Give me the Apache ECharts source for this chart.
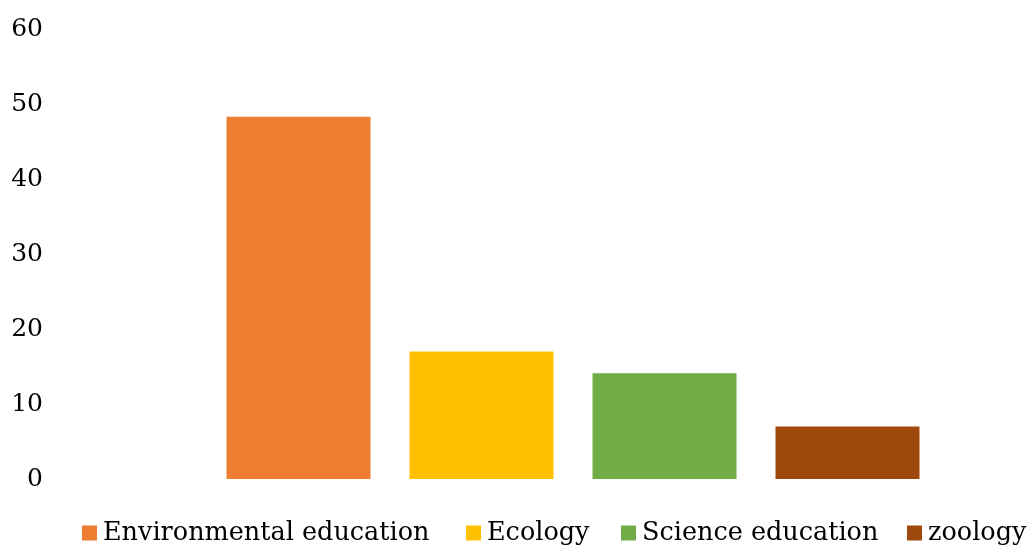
<!DOCTYPE html>
<html>
<head>
<meta charset="utf-8">
<script src="https://cdn.jsdelivr.net/npm/echarts@6/dist/echarts.min.js"></script>
<style>
  html, body { margin: 0; padding: 0; background: #fff; }
  #chart { width: 1030px; height: 547px; }
</style>
</head>
<body>
<div id="chart"></div>
<script>
// series names + values
const seriesNames = ['Environmental education', 'Ecology', 'Science education', 'zoology']
const seriesValues = [48.3, 17, 14.1, 7]
const seriesColors = ['#ED7D31', '#FFC000', '#70AD47', '#9E480E']
const categories = ['']
const legendLeft = [82, 466, 621, 907]

const font = "'DejaVu Serif', 'Liberation Serif', serif"

const chart = echarts.init(document.getElementById('chart'))

const option = {
  backgroundColor: '#fff',
  animation: false,
  grid: { left: 116, right: 0, top: 29, bottom: 68 },
  legend: seriesNames.map((name, i) => ({
    data: [name],
    left: legendLeft[i],
    top: 520,
    padding: 0,
    itemWidth: 15,
    itemHeight: 15,
    itemGap: 0,
    icon: 'rect',
    textStyle: { fontFamily: font, fontSize: 25.5, color: '#000', padding: [0, 0, 0, 1] }
  })),
  xAxis: {
    type: 'category',
    data: categories,
    axisLine: { show: false },
    axisTick: { show: false },
    axisLabel: { show: false }
  },
  yAxis: {
    type: 'value',
    min: 0,
    max: 60,
    interval: 10,
    axisLine: { show: false },
    axisTick: { show: false },
    splitLine: { show: false },
    axisLabel: {
      margin: 73,
      color: '#000',
      fontFamily: font,
      fontSize: 25
    }
  },
  series: seriesNames.map((name, i) => ({
    name: name,
    type: 'bar',
    data: [seriesValues[i]],
    barWidth: 144,
    barGap: '27.08%',
    itemStyle: { color: seriesColors[i] }
  }))
}

chart.setOption(option)
</script>
</body>
</html>
